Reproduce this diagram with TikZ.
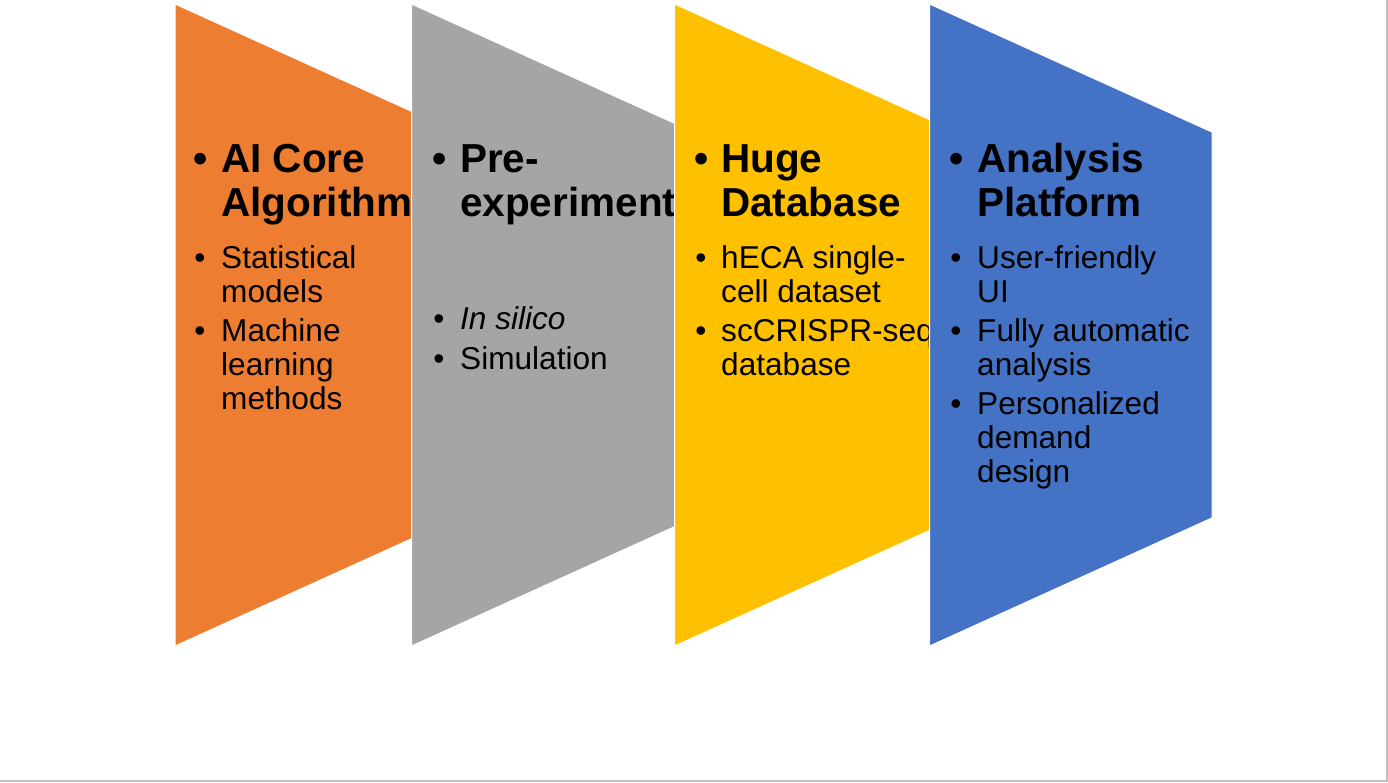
\documentclass[tikz,border=0pt]{standalone}
\usepackage{fontspec}
\setmainfont{Liberation Sans}
\definecolor{stageorange}{HTML}{ED7D31}
\definecolor{stagegray}{HTML}{A5A5A5}
\definecolor{stageyellow}{HTML}{FFC000}
\definecolor{stageblue}{HTML}{4472C4}
\definecolor{slideedge}{HTML}{C0C0C4}
\newcommand\headfnt{\fontsize{40.5}{44}\selectfont\bfseries}
\newcommand\itemfnt{\fontsize{31.6}{34}\selectfont}
\begin{document}
\begin{tikzpicture}[x=1pt,y=-1pt,
  panel/.style={draw=white,line width=1pt},
  hd/.style={anchor=base west,inner sep=0pt,font=\headfnt},
  hdot/.style={anchor=base,inner sep=0pt,font=\headfnt},
  itm/.style={anchor=base west,inner sep=0pt,font=\itemfnt},
  idot/.style={anchor=base,inner sep=0pt,font=\itemfnt}]
\useasboundingbox (0,0) rectangle (1388,782);
\fill[white] (0,0) rectangle (1388,782);
% slide edge
\draw[slideedge,line width=2pt] (1387,0) -- (1387,781) -- (0,781);

% stage 1
\fill[stageorange,panel] (175,4) -- (411.5,111.3) -- (411.5,538.7) -- (175,646) -- cycle;
\node[hdot] (o-b0) at (201,172) {•};
\node[hd] (o-h1) at (221,172) {AI Core};
\node[hd] (o-h2) at (221,216) {Algorithm};
\node[idot] (o-b1) at (200,268) {•};
\node[itm] (o-s1) at (221,268) {Statistical};
\node[itm] (o-s2) at (221,302) {models};
\node[idot] (o-b2) at (200,341) {•};
\node[itm] (o-s3) at (221,341) {Machine};
\node[itm] (o-s4) at (221,375) {learning};
\node[itm] (o-s5) at (221,409) {methods};

% stage 2
\fill[stagegray,panel] (411.5,4) -- (674.5,123.3) -- (674.5,526.7) -- (411.5,646) -- cycle;
\node[hdot] (g-b0) at (440,172) {•};
\node[hd] (g-h1) at (460,172) {Pre-};
\node[hd] (g-h2) at (460,216) {experiment};
\node[idot] (g-b1) at (439,329) {•};
\node[itm] (g-s1) at (460,329) {\itshape In silico};
\node[idot] (g-b2) at (439,369) {•};
\node[itm] (g-s2) at (460,369) {Simulation};

% stage 3
\fill[stageyellow,panel] (674.5,4) -- (929.5,119.6) -- (929.5,530.4) -- (674.5,646) -- cycle;
\node[hdot] (y-b0) at (702,172) {•};
\node[hd] (y-h1) at (721,172) {Huge};
\node[hd] (y-h2) at (721,216) {Database};
\node[idot] (y-b1) at (701,268) {•};
\node[itm] (y-s1) at (721,268) {hECA single-};
\node[itm] (y-s2) at (721,302) {cell dataset};
\node[idot] (y-b2) at (701,341) {•};
\node[itm] (y-s3) at (721,341) {scCRISPR-seq};
\node[itm] (y-s4) at (721,375) {database};

% stage 4
\fill[stageblue,panel] (929.5,4) -- (1212,132.1) -- (1212,517.9) -- (929.5,646) -- cycle;
\node[hdot] (b-b0) at (957,172) {•};
\node[hd] (b-h1) at (977,172) {Analysis};
\node[hd] (b-h2) at (977,216) {Platform};
\node[idot] (b-b1) at (956,268) {•};
\node[itm] (b-s1) at (977,268) {User-friendly};
\node[itm] (b-s2) at (977,302) {UI};
\node[idot] (b-b2) at (956,341) {•};
\node[itm] (b-s3) at (977,341) {Fully automatic};
\node[itm] (b-s4) at (977,375) {analysis};
\node[idot] (b-b3) at (956,414) {•};
\node[itm] (b-s5) at (977,414) {Personalized};
\node[itm] (b-s6) at (977,448) {demand};
\node[itm] (b-s7) at (977,482) {design};
\end{tikzpicture}
\end{document}
